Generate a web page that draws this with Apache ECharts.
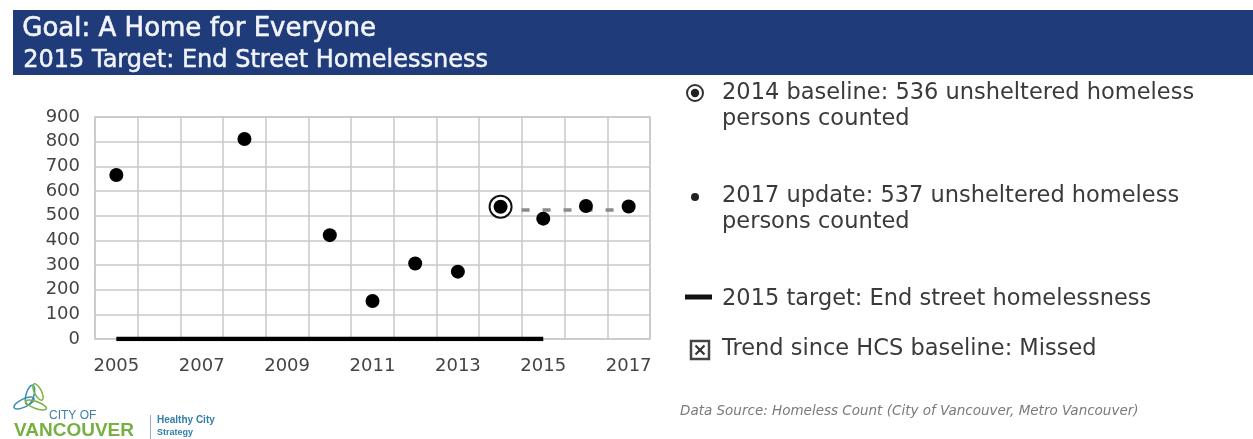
<!DOCTYPE html>
<html><head><meta charset="utf-8">
<script src="https://cdn.jsdelivr.net/npm/echarts@6/dist/echarts.min.js"></script>
<style>html,body{margin:0;padding:0;background:#fff}#c{width:1253px;height:439px}</style>
</head><body><div id="c"></div>
<script>
const years = ['2005','2006','2007','2008','2009','2010','2011','2012','2013','2014','2015','2016','2017'];
const counts = [665, null, null, 811, null, 421, 154, 306, 273, null, 488, 539, 537];
const baseline2014 = [null, null, null, null, null, null, null, null, null, 536, null, null, null];
const target = [0, 0, 0, 0, 0, 0, 0, 0, 0, 0, 0, null, null];
const trend = [null, null, null, null, null, null, null, null, null, 523, 523, 523, 523];
const yTicks = [0, 100, 200, 300, 400, 500, 600, 700, 800, 900];
const titleLines = ['Goal: A Home for Everyone', '2015 Target: End Street Homelessness'];
const legendTexts = [
  '2014 baseline: 536 unsheltered homeless\npersons counted',
  '2017 update: 537 unsheltered homeless\npersons counted',
  '2015 target: End street homelessness',
  'Trend since HCS baseline: Missed'
];
const sourceText = 'Data Source: Homeless Count (City of Vancouver, Metro Vancouver)';

const FONT = 'DejaVu Sans';
const TXT = '#3a3a3a';
const chart = echarts.init(document.getElementById('c'));
chart.setOption({
  animation: false,
  backgroundColor: '#fff',
  grid: {left: 95, right: 603, top: 117, bottom: 100, show: true, borderColor: '#c8c8c8', borderWidth: 1.5},
  xAxis: {
    type: 'category', data: years, boundaryGap: true,
    axisLine: {show: false}, axisTick: {show: false},
    splitLine: {show: true, interval: 0, lineStyle: {color: '#c8c8c8', width: 1.5}},
    axisLabel: {interval: 1, color: '#444', fontFamily: FONT, fontSize: 18, margin: 18}
  },
  yAxis: {
    type: 'value', min: yTicks[0], max: yTicks[yTicks.length - 1], interval: 100,
    axisLine: {show: false}, axisTick: {show: false},
    splitLine: {lineStyle: {color: '#c8c8c8', width: 1.5}},
    axisLabel: {color: '#444', fontFamily: FONT, fontSize: 18, margin: 15}
  },
  series: [
    {type: 'line', data: trend, symbol: 'none', z: 2,
     lineStyle: {color: '#8a8a8a', width: 3.5, type: [8, 13], dashOffset: 0}},
    {type: 'line', data: target, symbol: 'none', z: 3,
     lineStyle: {color: '#000', width: 4.5}},
    {type: 'scatter', data: counts, symbol: 'circle', symbolSize: 14, z: 4,
     itemStyle: {color: '#000', opacity: 1}},
    {type: 'scatter', data: baseline2014, symbol: 'circle', symbolSize: 22, z: 4,
     itemStyle: {color: '#fff', borderColor: '#111', borderWidth: 2, opacity: 1}},
    {type: 'scatter', data: baseline2014, symbol: 'circle', symbolSize: 14, z: 5,
     itemStyle: {color: '#000', opacity: 1}}
  ],
  graphic: [
    {type: 'rect', left: 13, top: 10, shape: {width: 1240, height: 65}, style: {fill: '#1f3b7a'}},
    {type: 'text', left: 22, top: 16, style: {text: titleLines[0], fill: '#f2f4fa', stroke: '#f2f4fa', lineWidth: 0.6, font: '26px "' + FONT + '"'}},
    {type: 'text', left: 23, top: 49, style: {text: titleLines[1], fill: '#f2f4fa', stroke: '#f2f4fa', lineWidth: 0.5, font: '24px "' + FONT + '"'}},
    // legend icons
    {type: 'circle', shape: {cx: 695, cy: 93, r: 8}, style: {fill: '#fff', stroke: '#333', lineWidth: 2}},
    {type: 'circle', shape: {cx: 695, cy: 93, r: 4.2}, style: {fill: '#222'}},
    {type: 'circle', shape: {cx: 695, cy: 197, r: 4}, style: {fill: '#222'}},
    {type: 'rect', shape: {x: 685, y: 294.5, width: 27, height: 5}, style: {fill: '#111'}},
    {type: 'rect', shape: {x: 691, y: 341, width: 18, height: 18}, style: {fill: '#fff', stroke: '#444', lineWidth: 2.5}},
    {type: 'line', shape: {x1: 695.5, y1: 345.5, x2: 704.5, y2: 354.5}, style: {stroke: '#333', lineWidth: 2.2}},
    {type: 'line', shape: {x1: 704.5, y1: 345.5, x2: 695.5, y2: 354.5}, style: {stroke: '#333', lineWidth: 2.2}},
    {type: 'text', left: 722, top: 80, style: {text: legendTexts[0], fill: TXT, font: '22.5px "' + FONT + '"', lineHeight: 26}},
    {type: 'text', left: 722, top: 183, style: {text: legendTexts[1], fill: TXT, font: '22.5px "' + FONT + '"', lineHeight: 26}},
    {type: 'text', left: 722, top: 286, style: {text: legendTexts[2], fill: TXT, font: '22.5px "' + FONT + '"', lineHeight: 26}},
    {type: 'text', left: 722, top: 336, style: {text: legendTexts[3], fill: TXT, font: '22.5px "' + FONT + '"', lineHeight: 26}},
    {type: 'text', left: 680, top: 404, style: {text: sourceText, fill: '#7a7a7a', font: 'italic 13.5px "' + FONT + '"'}},
    // logo
    {type: 'ellipse', shape: {cx: 24, cy: 403, rx: 11, ry: 4}, rotation: 0.45, originX: 24, originY: 403, style: {fill: 'none', stroke: '#3a8fb0', lineWidth: 1.5}},
    {type: 'ellipse', shape: {cx: 30, cy: 395, rx: 10, ry: 4}, rotation: 1.3, originX: 30, originY: 395, style: {fill: 'none', stroke: '#3a8fb0', lineWidth: 1.5}},
    {type: 'ellipse', shape: {cx: 38, cy: 392, rx: 9, ry: 3.5}, rotation: -1.1, originX: 38, originY: 392, style: {fill: 'none', stroke: '#7bb342', lineWidth: 1.5}},
    {type: 'ellipse', shape: {cx: 36, cy: 405, rx: 11, ry: 3.5}, rotation: -0.35, originX: 36, originY: 405, style: {fill: 'none', stroke: '#7bb342', lineWidth: 1.5}},
    {type: 'text', left: 49, top: 410, style: {text: 'CITY OF', fill: '#3d7fa8', font: '12px "Liberation Sans"'}},
    {type: 'text', left: 14, top: 421, style: {text: 'VANCOUVER', fill: '#76b043', font: 'bold 19px "Liberation Sans"'}},
    {type: 'rect', shape: {x: 150, y: 415, width: 1, height: 24}, style: {fill: '#9ab'}},
    {type: 'text', left: 157, top: 415, style: {text: 'Healthy City', fill: '#2f7fa6', font: 'bold 10px "Liberation Sans"'}},
    {type: 'text', left: 157, top: 428, style: {text: 'Strategy', fill: '#2f7fa6', font: 'bold 9px "Liberation Sans"'}}
  ]
});
</script></body></html>
